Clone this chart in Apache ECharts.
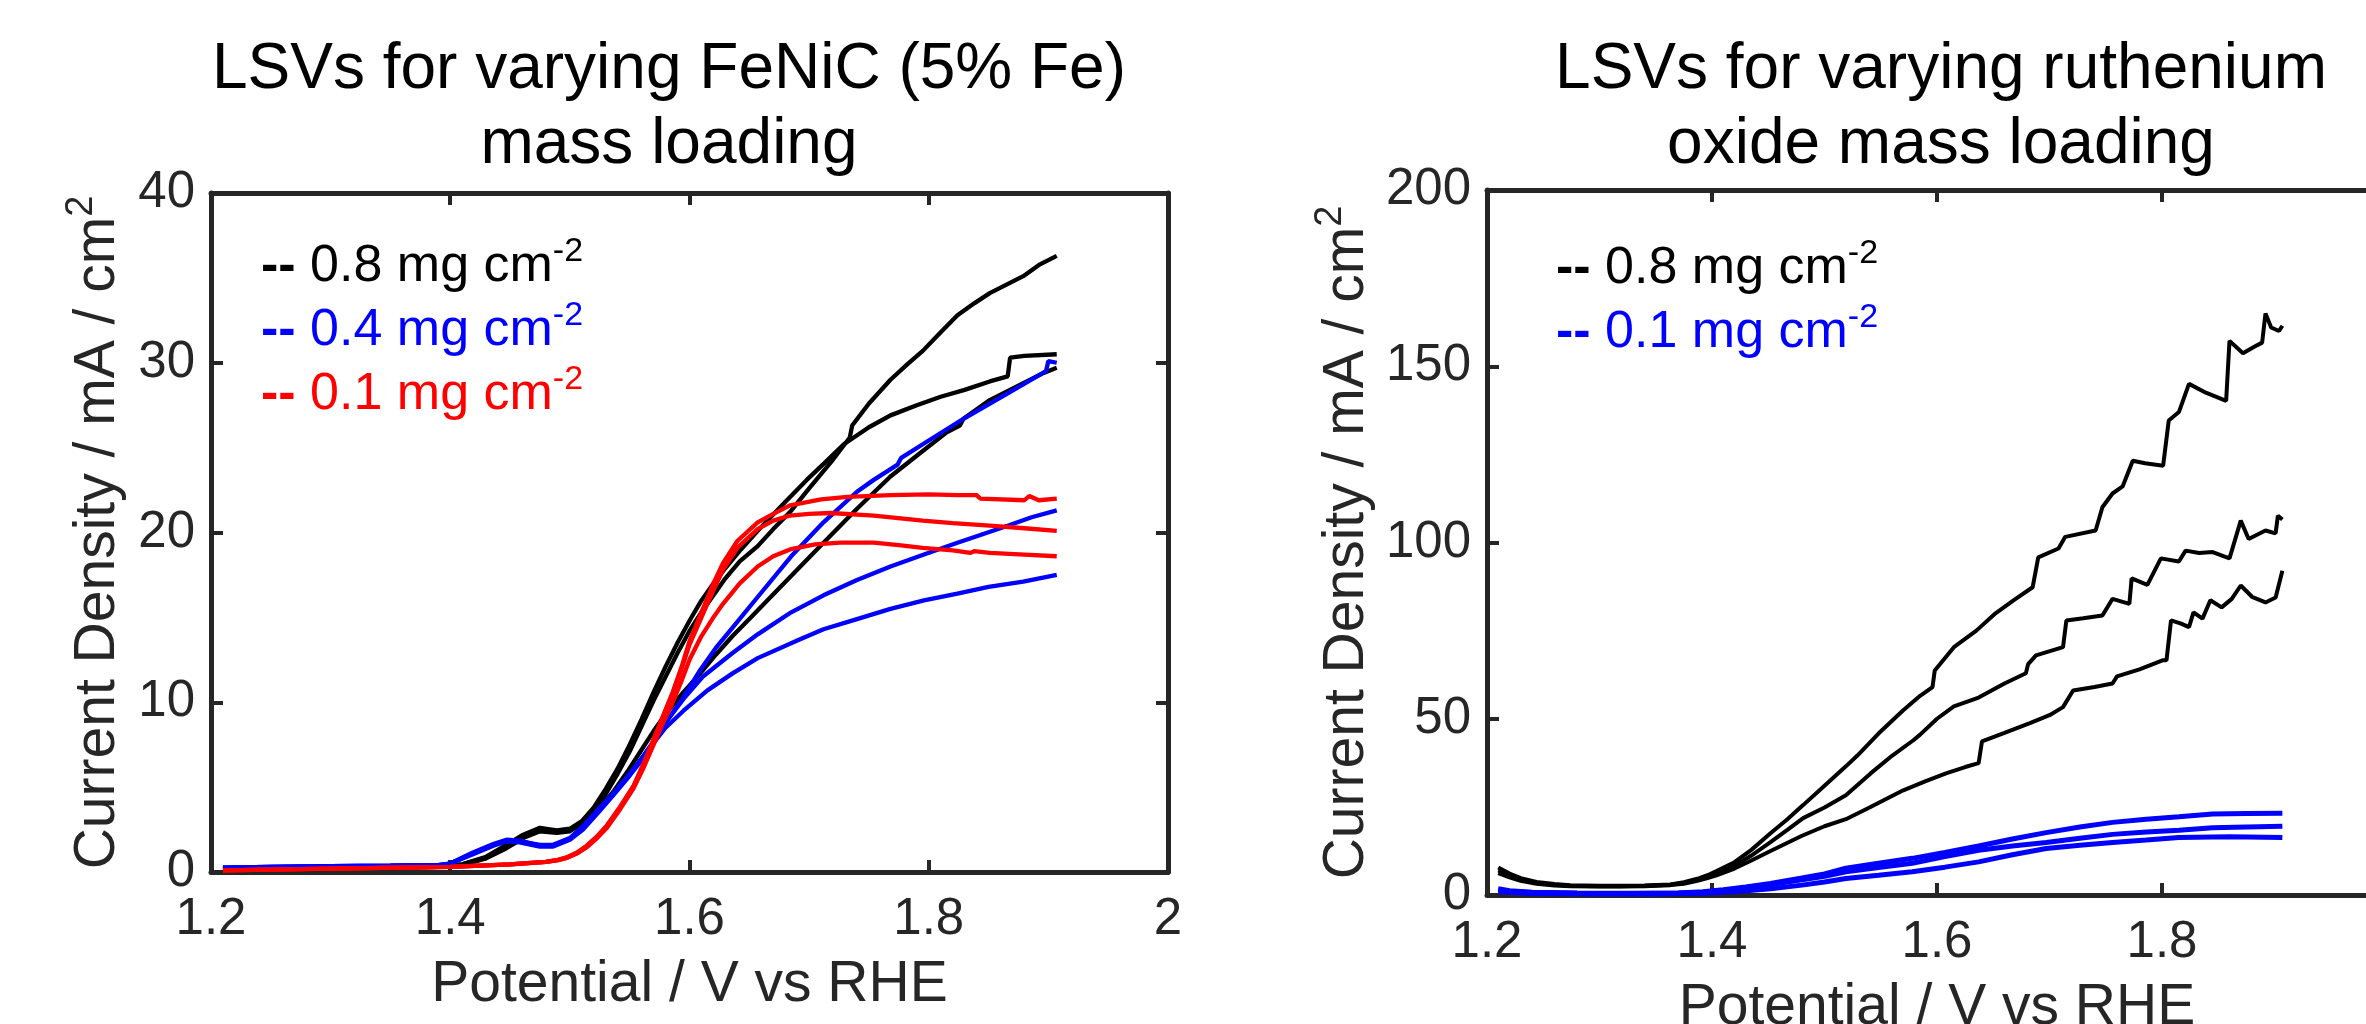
<!DOCTYPE html>
<html>
<head>
<meta charset="utf-8">
<script src="https://cdn.jsdelivr.net/npm/echarts@6/dist/echarts.min.js"></script>
<style>html,body{margin:0;padding:0;background:#fff}#c{width:2366px;height:1024px}</style>
</head>
<body>
<div id="c"></div>
<script>
// ---------------- DATA (Potential V vs RHE, Current density mA/cm2) ----------------
const xTicks = [1.2, 1.4, 1.6, 1.8, 2];
const yTicksLeft = [0, 10, 20, 30, 40];
const yTicksRight = [0, 50, 100, 150, 200];

const titleLeft = 'LSVs for varying FeNiC (5% Fe)\nmass loading';
const titleRight = 'LSVs for varying ruthenium\noxide mass loading';
const xName = 'Potential / V vs RHE';
const yName = 'Current Density / mA / cm{s|2}';

const legendLeft = ['0.8 mg cm-2', '0.4 mg cm-2', '0.1 mg cm-2'];
const legendRight = ['0.8 mg cm-2', '0.1 mg cm-2'];

// FeNiC 0.8 mg cm-2 (black)
const fenic08a = [[1.21,0.2],[1.25,0.22],[1.30,0.25],[1.35,0.27],[1.39,0.3],[1.41,0.45],[1.43,0.85],[1.447,1.5],[1.461,2.1],[1.475,2.5],[1.489,2.35],[1.50,2.45],[1.51,2.85],[1.52,3.6],[1.53,4.6],[1.54,5.8],[1.55,7.1],[1.56,8.6],[1.57,10.1],[1.58,11.5],[1.59,12.9],[1.60,14.2],[1.61,15.3],[1.62,16.3],[1.63,17.3],[1.642,18.3],[1.657,19.2],[1.67,20.2],[1.684,21.2],[1.70,22.6],[1.72,24.3],[1.734,25.6],[1.736,26.3],[1.75,27.6],[1.768,29.0],[1.782,29.9],[1.795,30.7],[1.81,31.8],[1.824,32.8],[1.838,33.5],[1.851,34.1],[1.865,34.6],[1.879,35.1],[1.893,35.8],[1.907,36.3]];
const fenic08b = [[1.21,0.2],[1.25,0.22],[1.30,0.25],[1.35,0.28],[1.39,0.3],[1.41,0.45],[1.43,0.9],[1.447,1.6],[1.461,2.2],[1.475,2.6],[1.489,2.45],[1.50,2.55],[1.51,3.0],[1.52,3.8],[1.53,4.9],[1.54,6.1],[1.55,7.5],[1.56,9.0],[1.57,10.6],[1.58,12.1],[1.59,13.5],[1.60,14.8],[1.61,16.0],[1.62,17.0],[1.63,17.9],[1.643,19.0],[1.657,20.1],[1.68,21.8],[1.698,23.1],[1.713,24.1],[1.729,25.2],[1.75,26.2],[1.768,26.9],[1.79,27.5],[1.81,28.0],[1.83,28.4],[1.851,28.9],[1.866,29.2],[1.868,30.3],[1.88,30.4],[1.907,30.5]];
const fenic08c = [[1.21,0.2],[1.25,0.22],[1.30,0.25],[1.35,0.27],[1.39,0.3],[1.41,0.4],[1.43,0.8],[1.447,1.4],[1.461,2.0],[1.475,2.4],[1.489,2.3],[1.50,2.4],[1.514,3.0],[1.525,3.8],[1.536,4.7],[1.548,5.9],[1.559,7.1],[1.57,8.3],[1.581,9.4],[1.595,10.6],[1.609,11.7],[1.622,12.8],[1.636,13.9],[1.65,14.9],[1.665,16.0],[1.69,17.8],[1.712,19.4],[1.74,21.4],[1.768,23.3],[1.795,24.8],[1.815,25.9],[1.826,26.3],[1.829,26.7],[1.851,27.8],[1.879,28.8],[1.896,29.4],[1.907,29.7]];
// FeNiC 0.4 mg cm-2 (blue)
const fenic04a = [[1.21,0.25],[1.25,0.3],[1.30,0.35],[1.35,0.37],[1.39,0.4],[1.40,0.5],[1.419,1.1],[1.436,1.6],[1.447,1.85],[1.458,1.8],[1.475,1.6],[1.486,1.6],[1.50,2.0],[1.511,2.7],[1.525,3.8],[1.536,4.6],[1.548,5.6],[1.559,6.6],[1.57,7.7],[1.581,8.9],[1.595,10.3],[1.609,11.9],[1.622,13.2],[1.636,14.4],[1.657,16.2],[1.685,18.6],[1.712,20.6],[1.74,22.4],[1.754,23.1],[1.774,24.0],[1.777,24.4],[1.795,25.2],[1.829,26.7],[1.866,28.2],[1.893,29.3],[1.898,29.5],[1.90,30.1],[1.907,30.0]];
const fenic04b = [[1.21,0.25],[1.25,0.3],[1.30,0.35],[1.35,0.37],[1.39,0.4],[1.40,0.5],[1.419,1.15],[1.436,1.65],[1.447,1.9],[1.458,1.85],[1.475,1.55],[1.486,1.55],[1.50,1.95],[1.511,2.6],[1.525,3.7],[1.536,4.6],[1.548,5.6],[1.559,6.6],[1.57,7.6],[1.581,8.9],[1.595,10.2],[1.611,11.5],[1.636,12.9],[1.657,14.0],[1.685,15.3],[1.712,16.3],[1.74,17.2],[1.768,18.0],[1.796,18.7],[1.824,19.4],[1.845,19.9],[1.866,20.4],[1.886,20.9],[1.907,21.3]];
const fenic04c = [[1.21,0.25],[1.25,0.3],[1.30,0.35],[1.35,0.37],[1.39,0.4],[1.40,0.5],[1.419,1.05],[1.436,1.55],[1.447,1.8],[1.458,1.75],[1.475,1.5],[1.486,1.5],[1.50,1.9],[1.511,2.5],[1.525,3.6],[1.536,4.5],[1.548,5.5],[1.559,6.5],[1.57,7.6],[1.58,8.5],[1.595,9.5],[1.615,10.7],[1.636,11.7],[1.657,12.6],[1.692,13.7],[1.712,14.3],[1.74,14.9],[1.768,15.5],[1.796,16.0],[1.824,16.4],[1.85,16.8],[1.879,17.1],[1.907,17.5]];
// FeNiC 0.1 mg cm-2 (red)
const fenic01a = [[1.21,0.1],[1.30,0.2],[1.40,0.3],[1.45,0.45],[1.48,0.6],[1.49,0.7],[1.498,0.85],[1.506,1.1],[1.514,1.5],[1.522,2.0],[1.531,2.7],[1.542,3.8],[1.553,5.0],[1.562,6.4],[1.57,7.8],[1.578,9.2],[1.586,10.6],[1.593,12.0],[1.60,13.6],[1.61,15.3],[1.62,17.0],[1.628,18.2],[1.64,19.5],[1.657,20.6],[1.67,21.1],[1.684,21.6],[1.71,21.95],[1.732,22.1],[1.768,22.2],[1.80,22.25],[1.824,22.2],[1.84,22.2],[1.843,22.0],[1.88,21.9],[1.884,22.15],[1.892,21.9],[1.907,22.0]];
const fenic01b = [[1.21,0.1],[1.30,0.2],[1.40,0.3],[1.45,0.45],[1.48,0.6],[1.49,0.72],[1.498,0.88],[1.506,1.15],[1.514,1.55],[1.522,2.05],[1.531,2.75],[1.542,3.85],[1.553,5.05],[1.562,6.45],[1.57,7.8],[1.578,9.2],[1.586,10.5],[1.593,11.9],[1.60,13.4],[1.61,15.0],[1.62,16.6],[1.628,17.8],[1.64,19.1],[1.657,20.2],[1.67,20.7],[1.684,21.0],[1.70,21.1],[1.718,21.15],[1.754,21.0],[1.795,20.7],[1.82,20.55],[1.851,20.4],[1.88,20.25],[1.907,20.1]];
const fenic01c = [[1.21,0.1],[1.30,0.2],[1.40,0.3],[1.45,0.45],[1.48,0.6],[1.49,0.7],[1.498,0.85],[1.506,1.1],[1.514,1.45],[1.522,1.95],[1.531,2.6],[1.542,3.7],[1.553,4.9],[1.562,6.2],[1.57,7.5],[1.578,8.8],[1.586,10.0],[1.593,11.2],[1.60,12.5],[1.61,13.9],[1.62,15.0],[1.628,15.8],[1.642,17.0],[1.657,18.0],[1.67,18.6],[1.684,19.0],[1.705,19.3],[1.726,19.4],[1.754,19.4],[1.775,19.25],[1.795,19.1],[1.82,18.95],[1.835,18.8],[1.838,18.9],[1.851,18.8],[1.88,18.7],[1.907,18.6]];

// RuO2 0.8 mg cm-2 (black)
const ruo08a = [[1.21,7.8],[1.22,6.1],[1.23,4.8],[1.244,3.7],[1.26,3.1],[1.274,2.8],[1.30,2.6],[1.318,2.6],[1.34,2.7],[1.363,3.0],[1.375,3.6],[1.387,4.6],[1.396,5.6],[1.404,6.8],[1.42,9.3],[1.435,12.8],[1.452,17.5],[1.467,21.5],[1.481,25.5],[1.50,31.0],[1.519,36.5],[1.529,39.5],[1.548,45.8],[1.57,52.4],[1.585,56.5],[1.596,59.0],[1.598,63.7],[1.615,70.3],[1.635,75.0],[1.652,79.9],[1.668,83.6],[1.685,87.3],[1.69,95.8],[1.708,98.3],[1.714,101.6],[1.741,103.4],[1.747,110.0],[1.756,113.9],[1.765,115.9],[1.774,123.2],[1.785,122.5],[1.801,121.8],[1.806,134.6],[1.815,137.0],[1.824,145.0],[1.839,142.5],[1.857,140.2],[1.86,157.2],[1.872,153.7],[1.882,155.5],[1.889,156.7],[1.892,165.0],[1.897,161.0],[1.904,160.0],[1.907,161.5]];
const ruo08b = [[1.21,7.0],[1.22,5.6],[1.23,4.4],[1.244,3.4],[1.26,2.9],[1.274,2.6],[1.30,2.5],[1.318,2.5],[1.34,2.6],[1.363,2.9],[1.375,3.4],[1.387,4.3],[1.396,5.2],[1.404,6.2],[1.42,8.3],[1.435,11.2],[1.452,15.0],[1.467,18.5],[1.481,21.8],[1.50,24.8],[1.519,28.3],[1.541,34.5],[1.56,39.5],[1.579,43.9],[1.585,45.5],[1.60,50.0],[1.615,53.5],[1.637,56.0],[1.66,60.0],[1.679,62.9],[1.681,65.5],[1.688,68.0],[1.712,70.3],[1.715,77.9],[1.73,78.5],[1.747,79.3],[1.756,84.0],[1.771,82.6],[1.773,89.8],[1.787,88.0],[1.799,95.5],[1.815,94.6],[1.821,97.7],[1.833,97.0],[1.845,97.3],[1.86,95.5],[1.87,106.2],[1.877,101.0],[1.892,103.4],[1.901,102.6],[1.903,107.6],[1.907,106.5]];
const ruo08c = [[1.21,6.2],[1.22,5.0],[1.23,4.0],[1.244,3.2],[1.26,2.7],[1.274,2.5],[1.30,2.4],[1.318,2.4],[1.34,2.5],[1.363,2.8],[1.375,3.2],[1.387,4.0],[1.396,4.8],[1.404,5.6],[1.42,7.5],[1.435,9.8],[1.452,12.5],[1.48,16.8],[1.50,19.5],[1.519,21.5],[1.54,24.8],[1.57,29.7],[1.59,32.3],[1.608,34.5],[1.625,36.3],[1.637,37.4],[1.64,43.6],[1.66,46.0],[1.682,48.7],[1.70,51.0],[1.712,53.3],[1.721,58.0],[1.74,59.0],[1.756,60.0],[1.76,62.0],[1.78,64.0],[1.801,66.6],[1.804,66.6],[1.808,77.9],[1.817,77.0],[1.824,76.0],[1.828,80.2],[1.836,78.4],[1.843,83.6],[1.853,81.6],[1.862,84.0],[1.87,87.8],[1.88,84.6],[1.892,83.0],[1.901,84.4],[1.907,92.0]];
// RuO2 0.1 mg cm-2 (blue)
const ruo01a = [[1.21,1.8],[1.22,1.2],[1.24,0.8],[1.28,0.6],[1.33,0.5],[1.37,0.6],[1.392,0.9],[1.41,1.5],[1.43,2.3],[1.452,3.3],[1.48,4.8],[1.50,6.0],[1.519,7.6],[1.548,9.0],[1.578,10.4],[1.607,12.1],[1.637,13.9],[1.667,15.9],[1.697,17.7],[1.727,19.3],[1.756,20.6],[1.786,21.5],[1.815,22.2],[1.845,23.0],[1.875,23.1],[1.907,23.2]];
const ruo01b = [[1.21,1.5],[1.22,1.0],[1.24,0.7],[1.28,0.5],[1.33,0.45],[1.37,0.55],[1.392,0.8],[1.41,1.3],[1.43,2.0],[1.452,3.0],[1.48,4.3],[1.50,5.3],[1.519,6.6],[1.548,7.8],[1.578,9.0],[1.607,10.9],[1.637,12.7],[1.667,13.9],[1.697,14.9],[1.727,16.1],[1.756,17.2],[1.786,17.9],[1.815,18.4],[1.845,19.1],[1.875,19.3],[1.907,19.5]];
const ruo01c = [[1.21,0.9],[1.24,0.4],[1.30,0.3],[1.35,0.3],[1.392,0.5],[1.42,0.9],[1.452,1.8],[1.48,2.8],[1.50,3.7],[1.519,4.7],[1.548,5.6],[1.578,6.6],[1.607,7.9],[1.637,9.4],[1.667,11.4],[1.697,13.2],[1.727,14.1],[1.756,14.9],[1.786,15.6],[1.815,16.3],[1.86,16.5],[1.907,16.3]];

// ---------------- CHART ----------------
const FONT = '"Liberation Sans", Arial, Helvetica, sans-serif';
const AX = '#262626';
const BLACK = '#000000', BLUE = '#0000ff', RED = '#ff0000';

const chart = echarts.init(document.getElementById('c'), null, {renderer: 'canvas'});

const fmtX = v => String(Math.round(v * 10) / 10);
const fmtY = v => String(Math.round(v));

function xAx(grid, pos, show, gap, showMax) {
  return {
    type: 'value', gridIndex: grid, position: pos,
    min: xTicks[0], max: xTicks[xTicks.length - 1], interval: 0.2,
    axisLine: {show: true, onZero: false, lineStyle: {color: AX, width: 5}},
    axisTick: {show: true, inside: true, length: 12, lineStyle: {color: AX, width: 4}},
    axisLabel: {show: show, color: AX, fontSize: 51, fontFamily: FONT, margin: 22, formatter: fmtX,
                showMaxLabel: showMax !== false, hideOverlap: false},
    splitLine: {show: false},
    name: show ? xName : '', nameLocation: 'middle', nameGap: gap,
    nameTextStyle: {color: AX, fontSize: 57, fontFamily: FONT, lineHeight: 70}
  };
}
function yAx(grid, pos, show, ticks, gap) {
  return {
    type: 'value', gridIndex: grid, position: pos,
    min: ticks[0], max: ticks[ticks.length - 1], interval: ticks[1] - ticks[0],
    axisLine: {show: true, onZero: false, lineStyle: {color: AX, width: 5}},
    axisTick: {show: true, inside: true, length: 12, lineStyle: {color: AX, width: 4}},
    axisLabel: {show: show, color: AX, fontSize: 51, fontFamily: FONT, margin: 16, formatter: fmtY},
    splitLine: {show: false},
    name: show ? yName : '', nameLocation: 'middle', nameGap: gap,
    nameTextStyle: {color: AX, fontSize: 57, fontFamily: FONT, lineHeight: 70,
      rich: {s: {color: AX, fontSize: 38, fontFamily: FONT, lineHeight: 6, verticalAlign: 'top'}}}
  };
}

function line(name, data, color, xi, yi, w) {
  return {
    type: 'line', name: name, data: data, xAxisIndex: xi, yAxisIndex: yi,
    symbol: 'none', showSymbol: false, smooth: false, clip: true, silent: true,
    lineStyle: {color: color, width: w}, itemStyle: {color: color},
    emphasis: {disabled: true}
  };
}

function richSet() {
  const r = {};
  [['k', BLACK], ['b', BLUE], ['r', RED]].forEach(([k, c]) => {
    r[k + 'd'] = {color: c, fontSize: 52, fontFamily: FONT, fontWeight: 'bold', lineHeight: 64};
    r[k] = {color: c, fontSize: 52, fontFamily: FONT, lineHeight: 64};
    r[k + 's'] = {color: c, fontSize: 34, fontFamily: FONT, lineHeight: 44, verticalAlign: 'top'};
  });
  return r;
}
function legendFmt(map) {
  return name => {
    const c = map[name];
    const base = name.replace('-2', '');
    return '{' + c + 'd|--}{' + c + '| ' + base + '}{' + c + 's|-2}';
  };
}
const leftColorKey = {}; leftColorKey[legendLeft[0]] = 'k'; leftColorKey[legendLeft[1]] = 'b'; leftColorKey[legendLeft[2]] = 'r';
const rightColorKey = {}; rightColorKey[legendRight[0]] = 'k'; rightColorKey[legendRight[1]] = 'b';

const LW = 4.3;
const option = {
  animation: false,
  backgroundColor: '#ffffff',
  textStyle: {fontFamily: FONT},
  title: [
    {text: titleLeft, left: 669, top: 33, textAlign: 'center', padding: 0,
     textStyle: {color: '#000', fontSize: 64, fontWeight: 'normal', fontFamily: FONT, lineHeight: 75}},
    {text: titleRight, left: 1941, top: 33, textAlign: 'center', padding: 0,
     textStyle: {color: '#000', fontSize: 64, fontWeight: 'normal', fontFamily: FONT, lineHeight: 75}}
  ],
  legend: [
    {data: legendLeft, left: 256, top: 235, orient: 'vertical', padding: 0, itemGap: 0,
     icon: 'rect', itemWidth: 0, itemHeight: 0, selectedMode: false,
     formatter: legendFmt(leftColorKey), textStyle: {fontSize: 52, fontFamily: FONT, lineHeight: 64, rich: richSet()}},
    {data: legendRight, left: 1551, top: 237, orient: 'vertical', padding: 0, itemGap: 0,
     icon: 'rect', itemWidth: 0, itemHeight: 0, selectedMode: false,
     formatter: legendFmt(rightColorKey), textStyle: {fontSize: 52, fontFamily: FONT, lineHeight: 64, rich: richSet()}}
  ],
  grid: [
    {left: 211, top: 193, width: 957, height: 679, containLabel: false, outerBoundsMode: 'none'},
    {left: 1487, top: 190, width: 900, height: 705, containLabel: false, outerBoundsMode: 'none'}
  ],
  xAxis: [xAx(0, 'bottom', true, 77), xAx(0, 'top', false, 0), xAx(1, 'bottom', true, 77, false), xAx(1, 'top', false, 0)],
  yAxis: [yAx(0, 'left', true, yTicksLeft, 78), yAx(0, 'right', false, yTicksLeft, 0),
          yAx(1, 'left', true, yTicksRight, 102), yAx(1, 'right', false, yTicksRight, 0)],
  series: [
    line(legendLeft[0], fenic08a, BLACK, 0, 0, LW),
    line(legendLeft[0], fenic08b, BLACK, 0, 0, LW),
    line(legendLeft[0], fenic08c, BLACK, 0, 0, LW),
    line(legendLeft[1], fenic04a, BLUE, 0, 0, LW),
    line(legendLeft[1], fenic04b, BLUE, 0, 0, LW),
    line(legendLeft[1], fenic04c, BLUE, 0, 0, LW),
    line(legendLeft[2], fenic01a, RED, 0, 0, LW),
    line(legendLeft[2], fenic01b, RED, 0, 0, LW),
    line(legendLeft[2], fenic01c, RED, 0, 0, LW),
    line(legendRight[0], ruo08a, BLACK, 2, 2, 4),
    line(legendRight[0], ruo08b, BLACK, 2, 2, 4),
    line(legendRight[0], ruo08c, BLACK, 2, 2, 4),
    line(legendRight[1], ruo01a, BLUE, 2, 2, 5),
    line(legendRight[1], ruo01b, BLUE, 2, 2, 5),
    line(legendRight[1], ruo01c, BLUE, 2, 2, 5)
  ]
};
chart.setOption(option);
</script>
</body>
</html>
